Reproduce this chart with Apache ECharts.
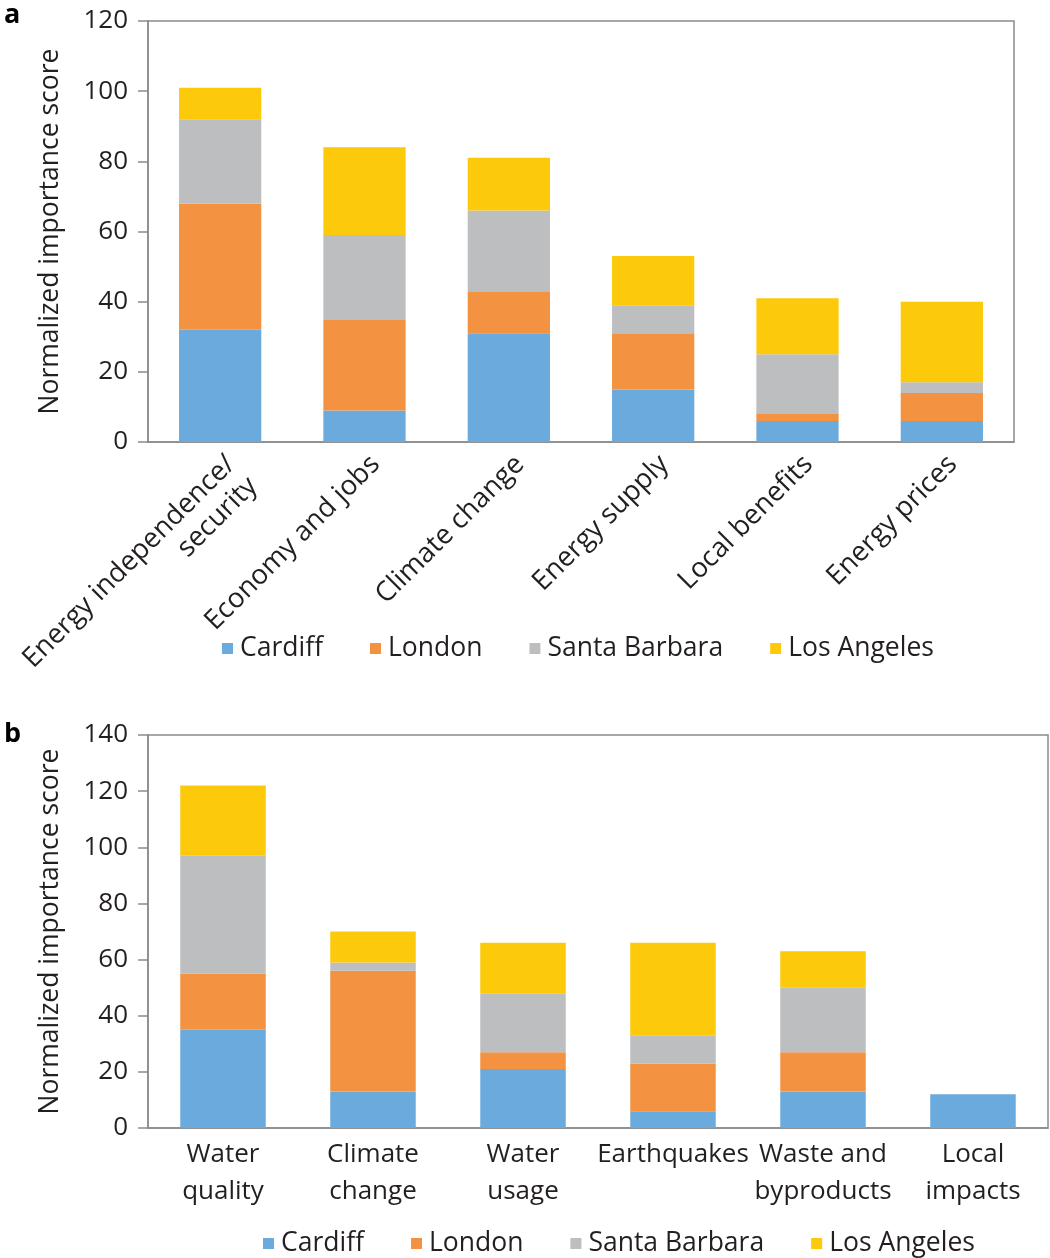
<!DOCTYPE html>
<html>
<head>
<meta charset="utf-8">
<script src="https://cdn.jsdelivr.net/npm/echarts@6/dist/echarts.min.js"></script>
<style>
html,body{margin:0;padding:0;background:#fff;}
#c{width:1050px;height:1258px;}
</style>
</head>
<body>
<div id="c"></div>
<script>
// Panel a data
const catsA = ['Energy independence/\nsecurity', 'Economy and jobs', 'Climate change', 'Energy supply', 'Local benefits', 'Energy prices'];
const cardiffA = [32, 9, 31, 15, 6, 6];
const londonA = [36, 26, 12, 16, 2, 8];
const santaBarbaraA = [24, 24, 23, 8, 17, 3];
const losAngelesA = [9, 25, 15, 14, 16, 23];

// Panel b data
const catsB = ['Water\nquality', 'Climate\nchange', 'Water\nusage', 'Earthquakes', 'Waste and\nbyproducts', 'Local\nimpacts'];
const cardiffB = [35, 13, 21, 6, 13, 12];
const londonB = [20, 43, 6, 17, 14, 0];
const santaBarbaraB = [42, 3, 21, 10, 23, 0];
const losAngelesB = [25, 11, 18, 33, 13, 0];

const seriesNames = ['Cardiff', 'London', 'Santa Barbara', 'Los Angeles'];
const colors = ['#6aaadc', '#f39241', '#bdbec0', '#fdc90b'];

const FONT = 'Open Sans';
const TXT = '#231f20';
const AX = '#8a8a8a';

const chart = echarts.init(document.getElementById('c'), null, {renderer: 'canvas'});

function yAxis(idx, max) {
  return {
    type: 'value', gridIndex: idx, min: 0, max: max, interval: 20,
    name: 'Normalized importance score', nameLocation: 'middle', nameGap: 84,
    nameTextStyle: {fontFamily: FONT, fontSize: 26.5, color: TXT},
    axisLine: {show: true, lineStyle: {color: AX, width: 1.5}},
    axisTick: {show: true, length: 10, lineStyle: {color: AX, width: 1.5}},
    axisLabel: {fontFamily: FONT, fontSize: 26, color: TXT, margin: 20},
    splitLine: {show: false}
  };
}

function mkSeries(dataArrs, xi) {
  return dataArrs.map((d, i) => ({
    name: seriesNames[i], type: 'bar', stack: 'p' + xi,
    xAxisIndex: xi, yAxisIndex: xi, data: d, barWidth: '57%',
    itemStyle: {color: colors[i]}
  }));
}

const option = {
  animation: false,
  backgroundColor: '#fff',
  color: colors,
  graphic: [
    {type: 'text', left: 4, top: 2, style: {text: 'a', fontFamily: FONT, fontWeight: 'bold', fontSize: 27, fill: '#000'}},
    {type: 'text', left: 4, top: 721, style: {text: 'b', fontFamily: FONT, fontWeight: 'bold', fontSize: 27, fill: '#000'}}
  ],
  grid: [
    {left: 148, top: 21, width: 866, height: 421, show: true, borderColor: AX, borderWidth: 1.5, containLabel: false},
    {left: 148, top: 735, width: 900, height: 393, show: true, borderColor: AX, borderWidth: 1.5, containLabel: false}
  ],
  legend: [
    {data: seriesNames, left: 217, top: 630, itemWidth: 11, itemHeight: 11, itemGap: 47,
     icon: 'rect', textStyle: {fontFamily: FONT, fontSize: 26.5, color: TXT, padding: [0,0,0,2]}},
    {data: seriesNames, left: 258, top: 1225, itemWidth: 11, itemHeight: 11, itemGap: 47,
     icon: 'rect', textStyle: {fontFamily: FONT, fontSize: 26.5, color: TXT, padding: [0,0,0,2]}}
  ],
  xAxis: [
    {type: 'category', gridIndex: 0, data: catsA,
     axisLine: {show: true, lineStyle: {color: AX, width: 1.5}},
     axisTick: {show: false},
     axisLabel: {rotate: 45, interval: 0, fontFamily: FONT, fontSize: 27.5, color: TXT, margin: 7, lineHeight: 31, verticalAlign: 'top'}},
    {type: 'category', gridIndex: 1, data: catsB,
     axisLine: {show: true, lineStyle: {color: AX, width: 1.5}},
     axisTick: {show: false},
     axisLabel: {interval: 0, fontFamily: FONT, fontSize: 26, color: TXT, margin: 8, lineHeight: 37}}
  ],
  yAxis: [yAxis(0, 120), yAxis(1, 140)],
  series: [].concat(
    mkSeries([cardiffA, londonA, santaBarbaraA, losAngelesA], 0),
    mkSeries([cardiffB, londonB, santaBarbaraB, losAngelesB], 1)
  )
};
chart.setOption(option);
</script>
</body>
</html>
